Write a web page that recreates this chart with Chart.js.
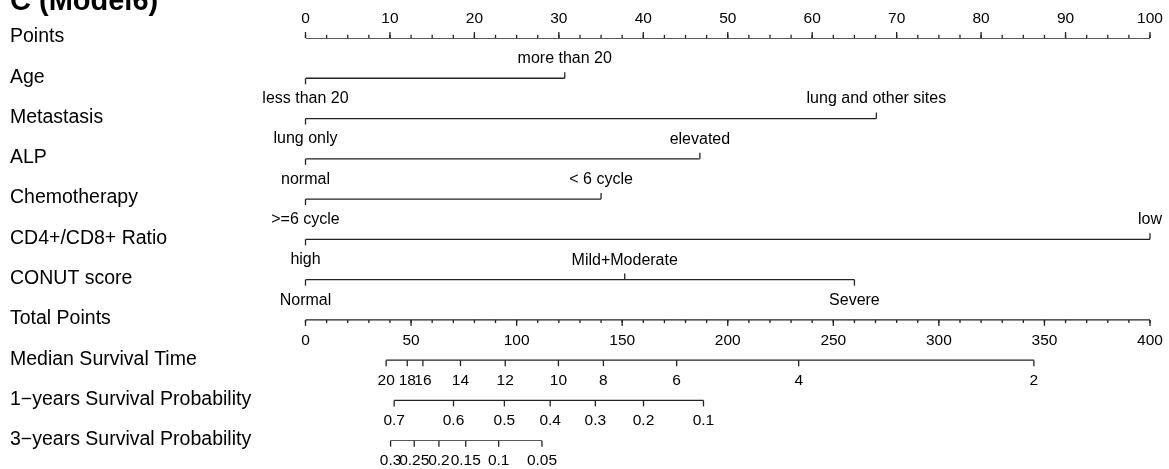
<!DOCTYPE html>
<html>
<head>
<meta charset="utf-8">
<title>Nomogram (Model6)</title>
<script src="https://cdn.jsdelivr.net/npm/chart.js@4/dist/chart.umd.min.js"></script>
<style>
  html, body { margin: 0; padding: 0; background: #fff; }
  canvas { display: block; }
</style>
</head>
<body>
<canvas id="nomo" width="1169" height="469" style="width:1169px;height:469px"></canvas>
<script>
// Row names, top to bottom
const rowNames = [
  "Points", "Age", "Metastasis", "ALP", "Chemotherapy", "CD4+/CD8+ Ratio",
  "CONUT score", "Total Points", "Median Survival Time",
  "1\u2212years Survival Probability", "3\u2212years Survival Probability"
];

// Points scale (0-100) and Total Points scale (0-400)
const pointTicks = [0, 10, 20, 30, 40, 50, 60, 70, 80, 90, 100];
const pointMinorStep = 2.5;
const totalTicks = [0, 50, 100, 150, 200, 250, 300, 350, 400];
const totalMinorStep = 10;

// Predictors: level labels and their points
const ageLevels = ["less than 20", "more than 20"];
const agePoints = [0, 30.7];
const metLevels = ["lung only", "lung and other sites"];
const metPoints = [0, 67.6];
const alpLevels = ["normal", "elevated"];
const alpPoints = [0, 46.7];
const chemoLevels = [">=6 cycle", "< 6 cycle"];
const chemoPoints = [0, 35.0];
const cd4Levels = ["high", "low"];
const cd4Points = [0, 100];
const conutLevels = ["Normal", "Mild+Moderate", "Severe"];
const conutPoints = [0, 37.8, 65.0];

// Outcome scales, positioned on total points
const medianLabels = ["20", "18", "16", "14", "12", "10", "8", "6", "4", "2"];
const medianTotal = [38.2, 48.2, 55.6, 73.4, 94.6, 119.8, 141.1, 175.8, 233.6, 345.0];
const surv1Labels = ["0.7", "0.6", "0.5", "0.4", "0.3", "0.2", "0.1"];
const surv1Total = [42.0, 70.1, 94.2, 115.9, 137.3, 160.1, 188.5];
const surv3Labels = ["0.3", "0.25", "0.2", "0.15", "0.1", "0.05"];
const surv3Total = [40.3, 51.5, 63.2, 75.9, 91.5, 112.0];

const TITLE = "C (Model6)";
const FONT = '"Liberation Sans", Arial, Helvetica, sans-serif';
const LINE_COLOR = "#222";
const TEXT_COLOR = "#000";

// Each drawn axis: which row, which x scale, where the ticks go, labels side
const axes = [
  { row: 0, scale: "x",  values: pointTicks,  labels: pointTicks.map(String), side: "above", minor: pointMinorStep },
  { row: 1, scale: "x",  values: agePoints,   labels: ageLevels,   side: "alt" },
  { row: 2, scale: "x",  values: metPoints,   labels: metLevels,   side: "alt" },
  { row: 3, scale: "x",  values: alpPoints,   labels: alpLevels,   side: "alt" },
  { row: 4, scale: "x",  values: chemoPoints, labels: chemoLevels, side: "alt" },
  { row: 5, scale: "x",  values: cd4Points,   labels: cd4Levels,   side: "alt" },
  { row: 6, scale: "x",  values: conutPoints, labels: conutLevels, side: "alt" },
  { row: 7, scale: "x2", values: totalTicks,  labels: totalTicks.map(String), side: "below", minor: totalMinorStep },
  { row: 8, scale: "x2", values: medianTotal, labels: medianLabels, side: "below" },
  { row: 9, scale: "x2", values: surv1Total,  labels: surv1Labels,  side: "below" },
  { row: 10, scale: "x2", values: surv3Total, labels: surv3Labels,  side: "below" }
];

// One straight line dataset per axis, from its smallest to largest value
const datasets = axes.map((a) => ({
  data: [
    { x: Math.min(...a.values), y: a.row },
    { x: Math.max(...a.values), y: a.row }
  ],
  xAxisID: a.scale,
  borderColor: LINE_COLOR,
  borderWidth: 1.3,
  pointRadius: 0,
  fill: false
}));

// Ticks, tick labels, row names and title
const nomogramPlugin = {
  id: "nomogram",
  afterDatasetsDraw(chart) {
    const ctx = chart.ctx;
    const yScale = chart.scales.y;
    ctx.save();
    ctx.strokeStyle = LINE_COLOR;
    ctx.lineWidth = 1.3;
    ctx.fillStyle = TEXT_COLOR;
    ctx.textAlign = "center";
    ctx.textBaseline = "middle";

    axes.forEach((a) => {
      const xs = chart.scales[a.scale];
      const py = yScale.getPixelForValue(a.row);

      // minor ticks
      if (a.minor) {
        const dir = a.side === "above" ? -1 : 1;
        const lo = Math.min(...a.values), hi = Math.max(...a.values);
        for (let v = lo; v <= hi + 1e-9; v += a.minor) {
          const px = xs.getPixelForValue(v);
          ctx.beginPath();
          ctx.moveTo(px, py);
          ctx.lineTo(px, py + dir * 3.2);
          ctx.stroke();
        }
      }

      a.values.forEach((v, i) => {
        const px = xs.getPixelForValue(v);
        let up;
        if (a.side === "alt") up = i % 2 === 1;
        else up = a.side === "above";
        const dir = up ? -1 : 1;
        ctx.beginPath();
        ctx.moveTo(px, py);
        ctx.lineTo(px, py + dir * 6);
        ctx.stroke();

        ctx.font = (a.side === "alt" ? "16px " : "15.5px ") + FONT;
        ctx.fillText(a.labels[i], px, py + (up ? -19.5 : 20.5));
      });
    });

    // row names
    ctx.textAlign = "left";
    ctx.font = "19.5px " + FONT;
    rowNames.forEach((name, r) => {
      ctx.fillText(name, 10, yScale.getPixelForValue(r) - 1);
    });

    // panel title (partly above the top edge, as in the source)
    ctx.font = "bold 29px " + FONT;
    ctx.textBaseline = "alphabetic";
    ctx.fillText(TITLE, 10, 10);
    ctx.restore();
  }
};

new Chart(document.getElementById("nomo"), {
  type: "line",
  data: { datasets },
  options: {
    responsive: false,
    animation: false,
    layout: { padding: { left: 305.5, right: 19, top: 38, bottom: 28.3 } },
    plugins: { legend: { display: false }, tooltip: { enabled: false } },
    scales: {
      x:  { type: "linear", min: 0, max: 100, display: false },
      x2: { type: "linear", min: 0, max: 400, display: false },
      y:  { type: "linear", min: 0, max: rowNames.length - 1, reverse: true, display: false }
    }
  },
  plugins: [nomogramPlugin]
});
</script>
</body>
</html>
